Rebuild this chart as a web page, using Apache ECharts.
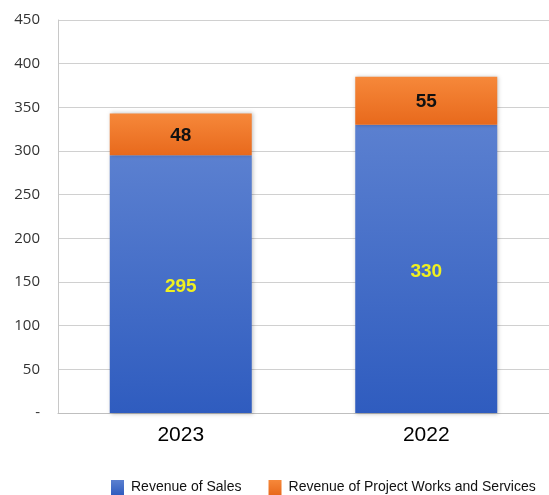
<!DOCTYPE html>
<html><head><meta charset="utf-8">
<script src="https://cdn.jsdelivr.net/npm/echarts@6/dist/echarts.min.js"></script>
<style>html,body{margin:0;padding:0;background:#fff}#c{width:549px;height:495px}</style>
</head><body><div id="c"></div>
<script>
const categories = ['2023', '2022'];
const salesValues = [295, 330];
const projectValues = [48, 55];
const seriesNames = ['Revenue of Sales', 'Revenue of Project Works and Services'];

const chart = echarts.init(document.getElementById('c'));
const blue = new echarts.graphic.LinearGradient(0, 0, 0, 1, [
  {offset: 0, color: '#5b80d0'}, {offset: 1, color: '#2f5cbf'}]);
const orange = new echarts.graphic.LinearGradient(0, 0, 0, 1, [
  {offset: 0, color: '#f6883a'}, {offset: 1, color: '#e8691c'}]);
const labelFont = "'Liberation Sans', sans-serif";
chart.setOption({
  animation: false,
  grid: {left: 58, right: 0, top: 20, bottom: 82},
  legend: {
    top: 480, left: 111, width: 440, padding: 0, icon: 'rect', itemWidth: 13, itemHeight: 15, itemGap: 27,
    textStyle: {fontFamily: 'Liberation Sans', fontSize: 14, color: '#111', padding: [0, 0, 0, 2]},
    data: seriesNames
  },
  xAxis: {
    type: 'category', data: categories,
    axisLine: {lineStyle: {color: '#bfbfbf', width: 1}},
    axisTick: {show: false},
    axisLabel: {fontFamily: 'Liberation Sans', fontSize: 21, color: '#000', margin: 12}
  },
  yAxis: {
    type: 'value', min: 0, max: 450, interval: 50,
    axisLine: {show: true, lineStyle: {color: '#c8c8c8'}},
    axisTick: {show: false},
    splitLine: {lineStyle: {color: '#d0d0d0'}},
    axisLabel: {fontFamily: 'Open Sans', fontSize: 15, color: '#333', margin: 18,
      formatter: v => v === 0 ? '-' : String(v)}
  },
  series: [
    {name: seriesNames[0], type: 'bar', stack: 's', data: salesValues, barWidth: 142,
     itemStyle: {color: blue, shadowColor: 'rgba(0,0,0,0.25)', shadowBlur: 4, shadowOffsetX: 1, shadowOffsetY: 1},
     label: {show: true, position: 'inside', offset: [0, 3], color: '#f0f020', fontWeight: 'bold', fontSize: 19, fontFamily: labelFont}},
    {name: seriesNames[1], type: 'bar', stack: 's', data: projectValues, barWidth: 142,
     itemStyle: {color: orange, shadowColor: 'rgba(0,0,0,0.25)', shadowBlur: 4, shadowOffsetX: 1, shadowOffsetY: 0},
     label: {show: true, position: 'inside', offset: [0, 1], color: '#111', fontWeight: 'bold', fontSize: 19, fontFamily: labelFont}}
  ]
});
</script></body></html>
